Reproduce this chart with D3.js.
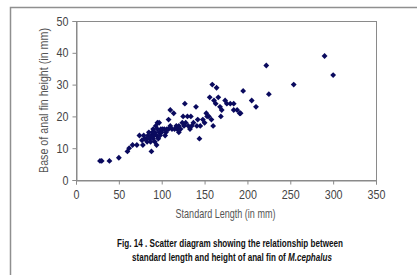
<!DOCTYPE html>
<html>
<head>
<meta charset="utf-8">
<script src="https://cdn.jsdelivr.net/npm/d3@7"></script>
<style>
  body { margin: 0; background: #fff; }
  svg { display: block; }
</style>
</head>
<body>
<div id="chart"></div>
<script>
// standard length (mm) and base of anal fin height (mm)
const standardLength = [28, 30, 39, 50, 60, 62, 66, 71, 74, 77, 78, 79, 80, 82, 83, 84, 85, 86, 87, 88,
  88, 89, 90, 90, 91, 92, 92, 93, 94, 94, 95, 95, 96, 97, 97, 98, 99, 100, 101, 103,
  104, 105, 106, 108, 108, 110, 110, 112, 114, 115, 117, 118, 120, 120, 122, 124, 125, 126, 127, 128,
  130, 131, 133, 134, 135, 137, 140, 141, 142, 144, 145, 148, 150, 152, 153, 155, 156, 158, 159, 160,
  161, 163, 164, 166, 168, 169, 170, 174, 176, 180, 184, 184, 188, 191, 192, 195, 205, 210, 222, 225,
  254, 290, 300];
const finHeight = [6, 6, 6, 7, 9, 10, 11, 11, 14, 12.5, 11, 14, 13, 13, 12, 14, 15, 13, 12, 9,
  14, 15, 13, 16, 14, 12, 15, 17, 11, 14, 16, 18, 13, 15, 18, 14, 16, 15, 16, 16,
  14, 15, 16, 19, 16, 22, 17, 16, 21, 16, 17, 16, 15, 17, 16, 18, 20, 17, 24, 18,
  20, 17, 16, 20, 17, 18, 23, 17, 19, 13, 17, 19, 18, 21, 20, 20, 26, 19, 30, 17,
  25, 24, 29, 26, 23, 20, 22, 25, 24, 24, 24, 22, 22, 21, 21, 28, 25, 23, 36, 27,
  30, 39, 33];

const xTicks = [0, 50, 100, 150, 200, 250, 300, 350];
const yTicks = [0, 10, 20, 30, 40, 50];

const xTitle = 'Standard Length (in mm)';
const yTitle = 'Base of anal fin height (in mm)';
const captionLine1 = 'Fig. 14 . Scatter diagram showing the relationship between';
const captionLine2 = 'standard length and height of anal fin of ';
const captionSpecies = 'M.cephalus';

const width = 417, height = 275;
const margin = {top: 21, right: 41, bottom: 95, left: 76};
const innerW = width - margin.left - margin.right;
const innerH = height - margin.top - margin.bottom;
const font = '"Liberation Sans", Arial, sans-serif';

const svg = d3.select('#chart').append('svg')
  .attr('width', width)
  .attr('height', height);

// outer picture frame (only top and left edges show)
svg.append('path')
  .attr('d', 'M10.5,' + height + 'V7.5H' + width)
  .attr('fill', 'none')
  .attr('stroke', '#8f8f8f')
  .attr('stroke-width', 1.5);

const g = svg.append('g')
  .attr('transform', 'translate(' + margin.left + ',' + margin.top + ')');

const x = d3.scaleLinear().domain([0, 350]).range([0, innerW]);
const y = d3.scaleLinear().domain([0, 50]).range([innerH, 0]);

g.append('rect')
  .attr('x', 0.5).attr('y', 0.5)
  .attr('width', innerW).attr('height', innerH)
  .attr('fill', '#fff')
  .attr('stroke', '#8a8a8a');

const sx = 0.86;

const xAxis = g.append('g')
  .attr('transform', 'translate(0,' + (innerH + 0.5) + ')')
  .call(d3.axisBottom(x).tickValues(xTicks).tickSize(4).tickPadding(6));

const yAxis = g.append('g')
  .attr('transform', 'translate(0.5,0)')
  .call(d3.axisLeft(y).tickValues(yTicks).tickSize(4).tickPadding(4));

[xAxis, yAxis].forEach(function(a) {
  a.select('.domain').attr('stroke', '#8a8a8a');
  a.selectAll('.tick line').attr('stroke', '#8a8a8a');
  a.selectAll('.tick text')
    .attr('fill', '#444')
    .style('font-family', font)
    .style('font-size', '12.5px');
});
xAxis.selectAll('.tick text').attr('transform', 'scale(' + sx + ',1)');
yAxis.selectAll('.tick text')
  .attr('x', -8 / sx)
  .attr('transform', 'scale(' + sx + ',1)');

// points
const pts = standardLength.map(function(d, i) { return [d, finHeight[i]]; });
g.append('g').selectAll('path')
  .data(pts)
  .join('path')
  .attr('transform', function(d) { return 'translate(' + x(d[0]) + ',' + y(d[1]) + ') rotate(45)'; })
  .attr('d', d3.symbol(d3.symbolSquare, 17))
  .attr('fill', '#0a0a5e');

// squeeze a label horizontally so it spans the given width
function fit(sel, target) {
  const w = sel.node().getComputedTextLength();
  return target / w;
}

const xt = svg.append('g');
const xtText = xt.append('text')
  .attr('text-anchor', 'middle')
  .attr('fill', '#555')
  .style('font-family', font)
  .style('font-size', '12px')
  .text(xTitle);
xt.attr('transform', 'translate(225.5,218) scale(' + fit(xtText, 100) + ',1)');

const yt = svg.append('g');
const ytText = yt.append('text')
  .attr('text-anchor', 'middle')
  .attr('fill', '#555')
  .style('font-family', font)
  .style('font-size', '12px')
  .text(yTitle);
yt.attr('transform', 'translate(47.5,100.5) rotate(-90) scale(' + fit(ytText, 145) + ',1)');

const c1 = svg.append('g');
const c1Text = c1.append('text')
  .attr('text-anchor', 'middle')
  .attr('fill', '#111')
  .style('font-family', font)
  .style('font-size', '10px')
  .style('font-weight', 'bold')
  .text(captionLine1);
c1.attr('transform', 'translate(230,246.5) scale(' + fit(c1Text, 226) + ',1)');

const c2 = svg.append('g');
const c2Text = c2.append('text')
  .attr('text-anchor', 'middle')
  .attr('fill', '#111')
  .style('font-family', font)
  .style('font-size', '10px')
  .style('font-weight', 'bold');
c2Text.append('tspan').text(captionLine2);
c2Text.append('tspan').style('font-style', 'italic').text(captionSpecies);
c2.attr('transform', 'translate(232,260.5) scale(' + fit(c2Text, 200) + ',1)');
</script>
</body>
</html>
